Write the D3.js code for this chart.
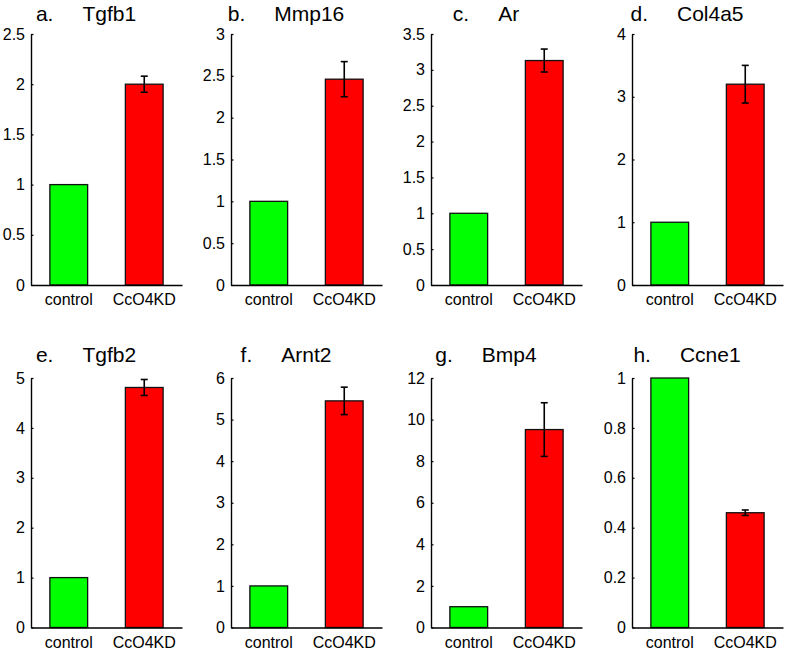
<!DOCTYPE html>
<html>
<head>
<meta charset="utf-8">
<script src="https://cdn.jsdelivr.net/npm/d3@7"></script>
<style>
  html, body { margin: 0; padding: 0; background: #fff; }
  svg { display: block; }
  text { font-family: "Liberation Sans", Arial, sans-serif; fill: #000; }
  .ytick text { font-size: 16px; }
  .xtick text { font-size: 16px; }
</style>
</head>
<body>
<svg id="chart" width="787" height="652"></svg>
<script>
// ---- data ----
const panelLetters = ["a.", "b.", "c.", "d.", "e.", "f.", "g.", "h."];
const genes = ["Tgfb1", "Mmp16", "Ar", "Col4a5", "Tgfb2", "Arnt2", "Bmp4", "Ccne1"];
const categories = ["control", "CcO4KD"];
const controlValues = [1, 1, 1, 1, 1, 1, 1, 1];
const kdValues = [2.0, 2.46, 3.13, 3.2, 4.81, 5.45, 9.52, 0.46];
const kdErrors = [0.08, 0.21, 0.16, 0.3, 0.16, 0.33, 1.29, 0.011];
const yMax = [2.5, 3, 3.5, 4, 5, 6, 12, 1];
const yTicks = [
  [0, 0.5, 1, 1.5, 2, 2.5],
  [0, 0.5, 1, 1.5, 2, 2.5, 3],
  [0, 0.5, 1, 1.5, 2, 2.5, 3, 3.5],
  [0, 1, 2, 3, 4],
  [0, 1, 2, 3, 4, 5],
  [0, 1, 2, 3, 4, 5, 6],
  [0, 2, 4, 6, 8, 10, 12],
  [0, 0.2, 0.4, 0.6, 0.8, 1]
];
const barColors = ["#00ff00", "#ff0000"];

// ---- layout ----
const colX = [31, 231, 431, 632];
const rowTop = [34, 378];
const rowBottom = [285, 627.5];
const axisW = 151;

const svg = d3.select("#chart");

genes.forEach((gene, i) => {
  const col = i % 4, row = Math.floor(i / 4);
  const g = svg.append("g").attr("transform", `translate(${colX[col]},0)`);
  const x = d3.scaleBand().domain(categories).range([0, axisW])
    .paddingInner(0.5).paddingOuter(0.25);
  const y = d3.scaleLinear().domain([0, yMax[i]]).range([rowBottom[row], rowTop[row]]);
  const vals = [controlValues[i], kdValues[i]];

  // bars
  g.selectAll("rect.bar").data(categories).enter().append("rect")
    .attr("class", "bar")
    .attr("x", d => x(d))
    .attr("width", x.bandwidth())
    .attr("y", (d, j) => y(vals[j]))
    .attr("height", (d, j) => y(0) - y(vals[j]))
    .attr("fill", (d, j) => barColors[j])
    .attr("stroke", "#111")
    .attr("stroke-width", 1.3);

  // error bar on KD
  const cx = x(categories[1]) + x.bandwidth() / 2;
  const hi = y(kdValues[i] + kdErrors[i]), lo = y(kdValues[i] - kdErrors[i]);
  const eb = g.append("g").attr("stroke", "#000").attr("stroke-width", 1.6);
  eb.append("line").attr("x1", cx).attr("x2", cx).attr("y1", hi).attr("y2", lo);
  eb.append("line").attr("x1", cx - 3.5).attr("x2", cx + 3.5).attr("y1", hi).attr("y2", hi);
  eb.append("line").attr("x1", cx - 3.5).attr("x2", cx + 3.5).attr("y1", lo).attr("y2", lo);

  // y axis (inward ticks)
  const yAxis = d3.axisLeft(y).tickValues(yTicks[i])
    .tickSizeInner(-2.5).tickSizeOuter(0).tickPadding(6)
    .tickFormat(d => String(+d.toFixed(2)));
  const ya = g.append("g").attr("class", "ytick").call(yAxis);
  ya.attr("font-size", null).attr("font-family", null);
  ya.select(".domain").attr("stroke", "#000").attr("stroke-width", 1.4);
  ya.selectAll(".tick line").attr("stroke", "#000").attr("stroke-width", 1.2);
  ya.selectAll(".tick text").attr("x", -6);

  // x axis
  const xAxis = d3.axisBottom(x).tickSize(0).tickPadding(0);
  const xa = g.append("g").attr("class", "xtick")
    .attr("transform", `translate(0,${rowBottom[row]})`).call(xAxis);
  xa.attr("font-size", null).attr("font-family", null);
  xa.select(".domain").attr("stroke", "#000").attr("stroke-width", 1.4);
  xa.selectAll(".tick text").attr("dy", null).attr("y", 20);

  // title
  const t = g.append("text")
    .attr("x", 55).attr("y", row === 0 ? 21 : 362)
    .attr("text-anchor", "middle").style("font-size", "21px");
  t.append("tspan").text(panelLetters[i]);
  t.append("tspan").attr("dx", 29).text(gene);
});
</script>
</body>
</html>
